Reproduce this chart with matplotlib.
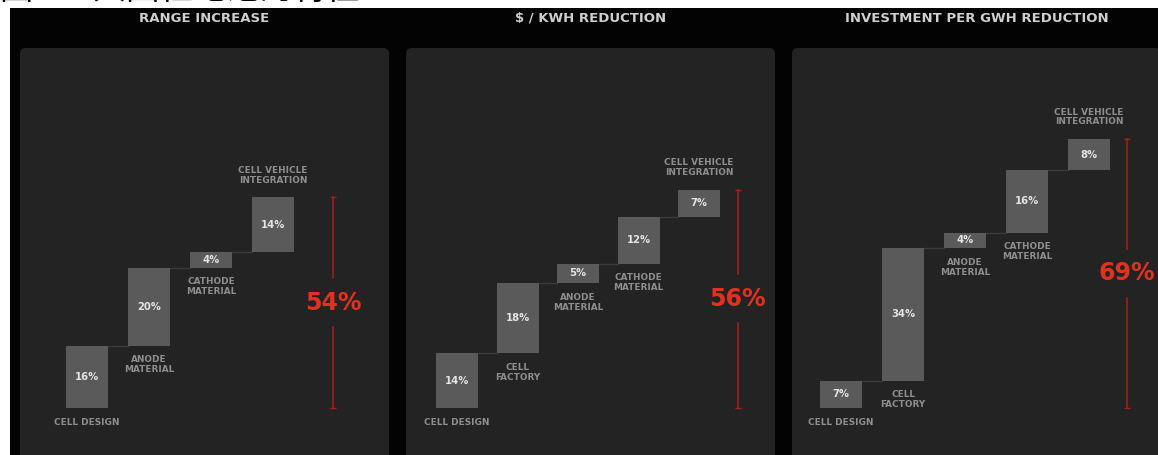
import matplotlib
matplotlib.use("Agg")
import matplotlib.pyplot as plt
from matplotlib.patches import Rectangle, FancyBboxPatch
import numpy as np

# ---------------- data ----------------
panel_titles = ["RANGE INCREASE", "$ / KWH REDUCTION", "INVESTMENT PER GWH REDUCTION"]

categories_1 = ["CELL DESIGN", "ANODE\nMATERIAL", "CATHODE\nMATERIAL", "CELL VEHICLE\nINTEGRATION"]
values_1 = [16, 20, 4, 14]

categories_2 = ["CELL DESIGN", "CELL\nFACTORY", "ANODE\nMATERIAL", "CATHODE\nMATERIAL", "CELL VEHICLE\nINTEGRATION"]
values_2 = [14, 18, 5, 12, 7]

categories_3 = ["CELL DESIGN", "CELL\nFACTORY", "ANODE\nMATERIAL", "CATHODE\nMATERIAL", "CELL VEHICLE\nINTEGRATION"]
values_3 = [7, 34, 4, 16, 8]

totals = [54, 56, 69]
header_text = "图 5：大圆柱电池的特性"

# ---------------- style ----------------
W, H = 1158, 455
DPI = 100
BG_BLACK = "#030303"
PANEL = "#232323"
BAR = "#5a5a5a"
CONNECT = "#3a3a3a"
LABEL = "#8e8e8e"
VALUE = "#e4e4e4"
TITLE = "#cfcfcf"
RED_TXT = "#e2321f"
RED_LINE = "#a82118"

plt.rcParams['font.family'] = ['DejaVu Sans']

fig = plt.figure(figsize=(W / DPI, H / DPI), dpi=DPI, facecolor="white")

# black backdrop
fig.patches.append(Rectangle((10 / W, 0), 1, 1 - 8 / H, transform=fig.transFigure,
                             facecolor=BG_BLACK, edgecolor="none", zorder=0))
# clipped header text at top (as in the reference)
fig.text(0.0, 1 - 7 / H, header_text, family=['Noto Sans CJK SC', 'DejaVu Sans'],
         fontsize=24, color="black", ha="left", va="bottom")

# panel layout (pixels): left, right, first bar centre, step, red line offset
layouts = [
    (20, 389, 87, 62.0, 0.97),
    (406, 775, 457, 60.5, 0.64),
    (792, 1161, 841, 62.0, 0.61),
]
Y0_PX = 408        # pixel row of value 0
SCALE = 3.9        # pixels per percent
PANEL_TOP = 48

all_cats = [categories_1, categories_2, categories_3]
all_vals = [values_1, values_2, values_3]
label_below = [
    [True, True, True, False],
    [True, True, True, True, False],
    [True, True, True, True, False],
]

for p in range(3):
    left, right, c0, step, line_off = layouts[p]
    cats, vals = all_cats[p], all_vals[p]
    n = len(vals)

    # rounded panel background
    fig.patches.append(FancyBboxPatch((left / W, -0.05), (right - left) / W, (H - PANEL_TOP) / H + 0.05,
                                      boxstyle="round,pad=0,rounding_size=0.005",
                                      transform=fig.transFigure, facecolor=PANEL,
                                      edgecolor="none", zorder=0.5, mutation_aspect=W / H))

    ax = fig.add_axes([left / W, 0, (right - left) / W, (H - PANEL_TOP) / H])
    ax.set_zorder(2)
    ax.set_xlim((left - c0) / step, (right - c0) / step)
    ax.set_ylim(-(H - Y0_PX) / SCALE, (Y0_PX - PANEL_TOP) / SCALE)
    ax.axis("off")
    ax.patch.set_visible(False)

    x = np.arange(n)
    bottoms = np.concatenate([[0], np.cumsum(vals)[:-1]])
    tops = bottoms + np.array(vals)
    bw = 42 / step

    ax.bar(x, vals, bottom=bottoms, width=bw, color=BAR, edgecolor="none", zorder=3)

    # connectors
    for i in range(n - 1):
        ax.plot([x[i] + bw / 2, x[i + 1] - bw / 2], [tops[i], tops[i]],
                color=CONNECT, lw=1.0, zorder=2)

    # value labels inside bars
    for i in range(n):
        ax.text(x[i], (bottoms[i] + tops[i]) / 2, f"{vals[i]}%", color=VALUE,
                fontsize=7.2, fontweight="bold", ha="center", va="center", zorder=4)

    # category labels
    for i in range(n):
        if label_below[p][i]:
            ax.annotate(cats[i], (x[i], bottoms[i]), xytext=(0, -7), textcoords="offset points",
                        ha="center", va="top", color=LABEL, fontsize=6.4, fontweight="bold",
                        linespacing=1.1)
        else:
            ax.annotate(cats[i], (x[i], tops[i]), xytext=(0, 9), textcoords="offset points",
                        ha="center", va="bottom", color=LABEL, fontsize=6.4, fontweight="bold",
                        linespacing=1.1)

    # red total bracket
    total = totals[p]
    lx = x[-1] + line_off
    mid = total / 2
    gap = 6.3
    ax.plot([lx, lx], [total, mid + gap], color=RED_LINE, lw=1.1, zorder=3)
    ax.plot([lx, lx], [mid - gap, 0], color=RED_LINE, lw=1.1, zorder=3)
    ax.plot([lx, lx], [0, total], linestyle="none", marker="_", markersize=4,
            color=RED_LINE, markeredgewidth=1.0, zorder=3)
    ax.text(lx, mid, f"{total}%", color=RED_TXT, fontsize=17, fontweight="bold",
            ha="center", va="center", zorder=4)

    # panel title
    fig.text((left + right) / 2 / W, 1 - 18 / H, panel_titles[p], color=TITLE,
             fontsize=9.5, fontweight="bold", ha="center", va="center")

fig.savefig("out.png", dpi=DPI, facecolor="white")
